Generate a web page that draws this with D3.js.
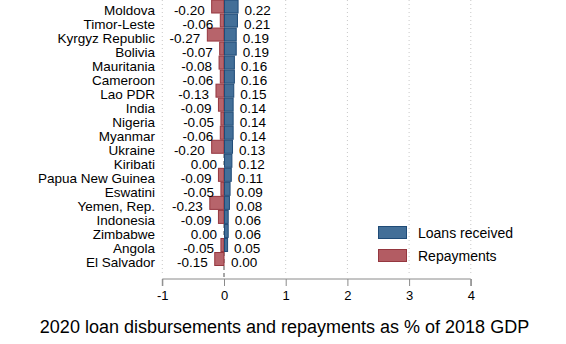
<!DOCTYPE html>
<html><head><meta charset="utf-8">
<script src="https://cdn.jsdelivr.net/npm/d3@7"></script>
<style>body{margin:0;background:#fff;} svg{display:block;font-family:"Liberation Sans",Arial,Helvetica,sans-serif;}</style>
</head><body>
<svg id="c" width="566" height="344"></svg>
<script>
const countries = ["Moldova","Timor-Leste","Kyrgyz Republic","Bolivia","Mauritania","Cameroon","Lao PDR","India","Nigeria","Myanmar","Ukraine","Kiribati","Papua New Guinea","Eswatini","Yemen, Rep.","Indonesia","Zimbabwe","Angola","El Salvador"];
const loans = [0.22,0.21,0.19,0.19,0.16,0.16,0.15,0.14,0.14,0.14,0.13,0.12,0.11,0.09,0.08,0.06,0.06,0.05,0.00];
const repayments = [-0.20,-0.06,-0.27,-0.07,-0.08,-0.06,-0.13,-0.09,-0.05,-0.06,-0.20,0.00,-0.09,-0.05,-0.23,-0.09,0.00,-0.05,-0.15];
const xTicks = [-1,0,1,2,3,4];
const seriesNames = ["Loans received","Repayments"];

const svg = d3.select("#c");
const x = d3.scaleLinear().domain([-1,4]).range([162.3,470.8]);
const y = d3.scalePoint().domain(countries).range([6.5,259]);
const barH = 13;
const axisY = 279;
const tOff = 3.3;

// gridlines
xTicks.filter(t=>t!==0).forEach(t=>{
  svg.append("line").attr("x1",x(t)).attr("x2",x(t)).attr("y1",0).attr("y2",275)
    .attr("stroke","#c8c8c8").attr("stroke-width",1).attr("stroke-dasharray","1,3");
});
// zero line
svg.append("line").attr("x1",x(0)).attr("x2",x(0)).attr("y1",0).attr("y2",axisY)
  .attr("stroke","#8a8a8a").attr("stroke-width",1.5).attr("stroke-dasharray","4,3");

const blueFill="#436f98", blueStroke="#1f4b77", redFill="#b35c63", redStroke="#95373f";

// bars
svg.selectAll("rect.rep").data(countries).join("rect").attr("class","rep")
  .attr("x",(d,i)=>x(Math.min(0,repayments[i])))
  .attr("width",(d,i)=>Math.abs(x(repayments[i])-x(0)))
  .attr("y",d=>y(d)-barH/2).attr("height",barH)
  .attr("fill",redFill).attr("stroke",redStroke).attr("stroke-width",1).attr("fill-opacity",0.95);
svg.selectAll("rect.loan").data(countries).join("rect").attr("class","loan")
  .attr("x",x(0)+0.5)
  .attr("width",(d,i)=>Math.abs(x(loans[i])-x(0)))
  .attr("y",d=>y(d)-barH/2).attr("height",barH)
  .attr("fill",blueFill).attr("stroke",blueStroke).attr("stroke-width",1);

// labels
const fs = 13.5;
svg.selectAll("text.cty").data(countries).join("text").attr("class","cty")
  .attr("x",155).attr("y",d=>y(d)+tOff).attr("dy","0.35em")
  .attr("text-anchor","end").attr("font-size",fs).attr("fill","#000").text(d=>d);
svg.selectAll("text.rv").data(countries).join("text").attr("class","rv")
  .attr("x",(d,i)=>x(repayments[i])-7).attr("y",d=>y(d)+tOff).attr("dy","0.35em")
  .attr("text-anchor","end").attr("font-size",fs).text((d,i)=>repayments[i].toFixed(2));
svg.selectAll("text.lv").data(countries).join("text").attr("class","lv")
  .attr("x",(d,i)=>x(loans[i])+7).attr("y",d=>y(d)+tOff).attr("dy","0.35em")
  .attr("text-anchor","start").attr("font-size",fs).text((d,i)=>loans[i].toFixed(2));

// axis
const ax = svg.append("g").attr("transform",`translate(0,${axisY})`)
  .call(d3.axisBottom(x).tickValues(xTicks).tickSize(7).tickPadding(5).tickFormat(d=>String(d)));
ax.select(".domain").attr("stroke","#8a8a8a").attr("d",`M${x(-1)},7V0H${x(4)}V7`);
ax.selectAll(".tick line").attr("stroke","#8a8a8a");
ax.selectAll(".tick text").attr("font-size",13).attr("fill","#000").attr("font-family","Liberation Sans, Arial, sans-serif");

// title
svg.append("text").attr("x",284.5).attr("y",327).attr("dy","0.35em").attr("text-anchor","middle")
  .attr("font-size",18).text("2020 loan disbursements and repayments as % of 2018 GDP");

// legend
const leg = svg.append("g");
[[blueFill,blueStroke,226],[redFill,redStroke,249]].forEach((c,i)=>{
  leg.append("rect").attr("x",378.5).attr("y",c[2]+0.5).attr("width",28).attr("height",12)
    .attr("fill",c[0]).attr("stroke",c[1]).attr("stroke-width",1);
  leg.append("text").attr("x",418).attr("y",c[2]+7).attr("dy","0.35em")
    .attr("font-size",14).text(seriesNames[i]);
});
</script>
</body></html>
